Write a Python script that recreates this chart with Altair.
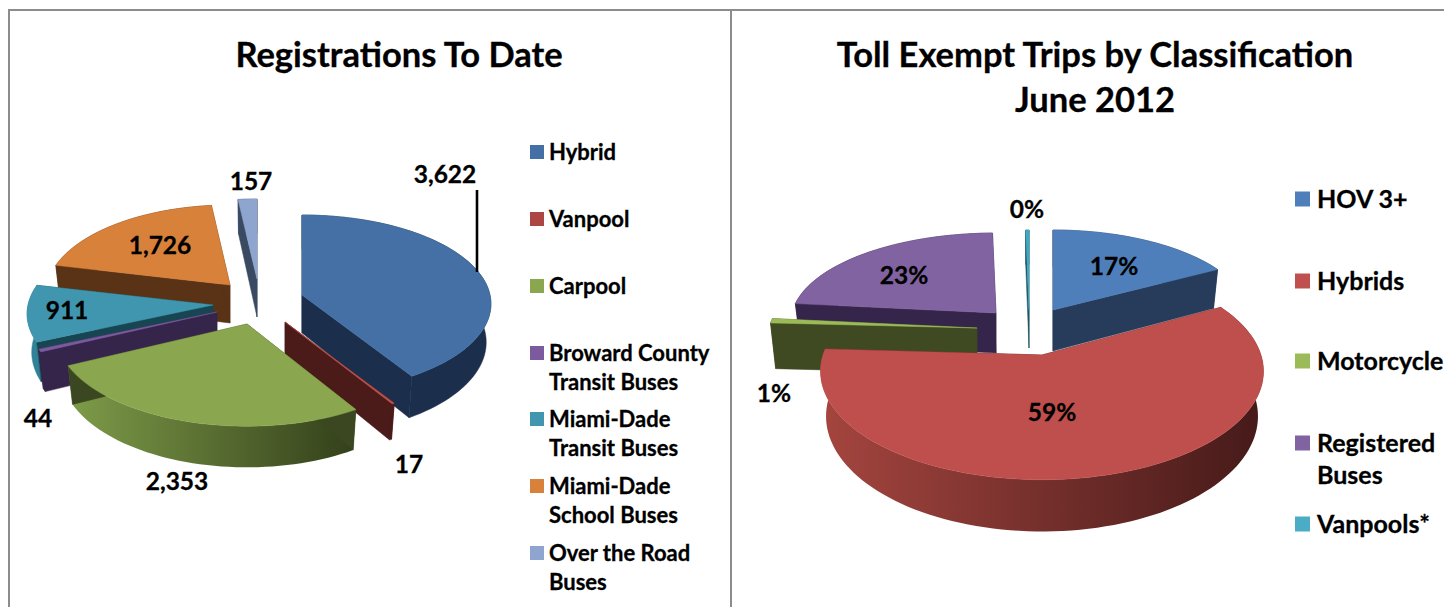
import math
import altair as alt

# ---- data ----
left_title = ["Registrations To Date"]
left_categories = ["Hybrid", "Vanpool", "Carpool", "Broward County Transit Buses",
                   "Miami-Dade Transit Buses", "Miami-Dade School Buses", "Over the Road Buses"]
left_values = [3622, 17, 2353, 44, 911, 1726, 157]
left_value_labels = ["3,622", "17", "2,353", "44", "911", "1,726", "157"]
left_legend_lines = [["Hybrid"], ["Vanpool"], ["Carpool"], ["Broward County", "Transit Buses"],
                     ["Miami-Dade", "Transit Buses"], ["Miami-Dade", "School Buses"],
                     ["Over the Road", "Buses"]]

right_title = ["Toll Exempt Trips by Classification", "June 2012"]
right_categories = ["HOV 3+", "Hybrids", "Motorcycle", "Registered Buses", "Vanpools*"]
right_values = [17, 59, 0.8, 23, 0.3]
right_value_labels = ["17%", "59%", "1%", "23%", "0%"]
right_legend_lines = [["HOV 3+"], ["Hybrids"], ["Motorcycle"], ["Registered", "Buses"], ["Vanpools*"]]

# ---- styling / layout (page pixels) ----
FONT = "Lato"
GRID = "#8c8c8c"
PANEL_H = 599
PANEL_WIDTHS = [722, 714]
ORIGINS = [(8, 8), (730, 8)]
TAPER = 0.975

# per slice: apex x, apex y, rx, ry, perspective, depth
LEFT_GEOM = [(302, 295, 188, 88, .10, 38), (285, 322, 187, 88, .10, 33), (247, 324, 190, 92, .10, 37),
             (217, 312, 187, 88, .10, 38), (213, 305, 185, 88, .10, 38), (230, 285, 183, 88, .10, 38),
             (257, 279, 187, 88, .10, 38)]
LEFT_STYLE = [("#4470a6", "#1b2f4c", "#1b2f4c", "#1b2f4c"), ("#c0504d", "#4a1b18", "#4a1b18", "#4a1b18"),
              ("#8aa64e", "#7e9c49", "#333f1a", "#3a4720"), ("#7c5a9e", "#35254a", "#35254a", "#35254a"),
              ("#3f96ae", "#2f8297", "#2f8297", "#174552"), ("#d8813a", "#5a3317", "#5a3317", "#5a3317"),
              ("#8ea6cf", "#3a4a63", "#3a4a63", "#3a4a63")]
LEFT_ORDER = [6, 5, 4, 3, 0, 1, 2]
LEFT_LEGEND_COLORS = ["#4470a6", "#ab4643", "#8aa64e", "#7c5a9e", "#3f96ae", "#d8813a", "#8ea6cf"]
LEFT_LEGEND_Y = [153, 220, 287, 354, 420, 487, 554]
LEFT_LINE_GAP = 29
LEFT_LABEL_POS = [(445, 176), (409, 466), (177, 483), (38, 420), (67, 312), (160, 247), (251, 183)]

RIGHT_GEOM = [(1053, 310, 197, 88, .10, 41), (1042, 355, 219, 106, .15, 44), (977, 328, 208, 88, .10, 46),
              (996, 313, 204, 88, .10, 40), (1029, 310, 197, 88, .10, 38)]
RIGHT_STYLE = [("#4f7fbb", "#273b5b", "#273b5b", "#273b5b"), ("#bf4f4c", "#a5453f", "#451a19", "#4a1c1b"),
               ("#9bbb59", "#3f4a22", "#3f4a22", "#3f4a22"), ("#8063a0", "#35254a", "#35254a", "#35254a"),
               ("#3fa8c2", "#1d5566", "#1d5566", "#1d5566")]
RIGHT_ORDER = [4, 3, 2, 0, 1]
RIGHT_LEGEND_COLORS = ["#4f7fbb", "#c0504d", "#9bbb59", "#8063a0", "#4bacc6"]
RIGHT_LEGEND_Y = [200, 282, 362, 444, 525]
RIGHT_LINE_GAP = 32
RIGHT_LABEL_POS = [(1114, 268), (1052, 414), (774, 395), (904, 277), (1027, 211)]

projection = alt.Projection(type="identity", scale=1, translate=[0, 0])


def shape(coords, fill, ox, oy, closed=True, width=2):
    pts = [[x - ox, y - oy] for x, y in coords]
    if closed:
        geom = {"type": "Polygon", "coordinates": [pts + [pts[0]]]}
    else:
        geom = {"type": "LineString", "coordinates": pts}
    feature = {"type": "Feature", "properties": {}, "geometry": geom}
    data = alt.Data(values=[feature])
    if closed:
        return alt.Chart(data).mark_geoshape(fill=fill, stroke=fill if isinstance(fill, str) else "transparent",
                                             strokeWidth=0.5)
    return alt.Chart(data).mark_geoshape(filled=False, stroke=fill, strokeWidth=width)


def slice_layers(theta0, theta1, geom, style, ox, oy):
    cx, cy, rx, ry, k, depth = geom
    top, wall_a, wall_b, radial = style
    n = max(2, int((theta1 - theta0) / 2))
    arc, down = [], []
    for i in range(n + 1):
        t = math.radians(theta0 + (theta1 - theta0) * i / n)
        u, v = math.sin(t), -math.cos(t)
        s = 1 / (1 - k * v)
        arc.append((cx + rx * u * s, cy + ry * v * s))
        down.append((cx + TAPER * rx * u * s, cy + ry * v * s + depth * s))
    apex, apex_d = (cx, cy), (cx, cy + depth)
    fill = wall_a if wall_a == wall_b else alt.Gradient(
        gradient="linear", x1=0, x2=1, y1=0, y2=0,
        stops=[alt.GradientStop(color=wall_a, offset=0), alt.GradientStop(color=wall_b, offset=1)])
    return [
        shape(arc + down[::-1], fill, ox, oy),
        shape([apex, arc[0], down[0], apex_d], radial, ox, oy),
        shape([apex, arc[-1], down[-1], apex_d], radial, ox, oy),
        shape([apex] + arc, top, ox, oy),
    ]


def pie_layers(values, geoms, styles, order, ox, oy):
    total = sum(values)
    starts, acc = [], 0
    for v in values:
        starts.append(acc / total * 360)
        acc += v
    ends = starts[1:] + [360]
    layers = []
    for i in order:
        layers += slice_layers(starts[i], ends[i], geoms[i], styles[i], ox, oy)
    return layers


def text_layer(rows, ox, oy, size, align="center"):
    data = [{"lon": x - ox, "lat": y - oy, "t": t} for x, y, t in rows]
    return alt.Chart(alt.Data(values=data)).mark_text(
        font=FONT, fontWeight="bold", fontSize=size, align=align, baseline="middle", color="#000000",
        stroke="#000000", strokeWidth=0.3
    ).encode(longitude="lon:Q", latitude="lat:Q", text="t:N")


def legend_layers(lines, colors, ys, gap, sq_x, sq_size, text_x, size, ox, oy):
    sq = [{"lon": sq_x - ox, "lat": y - oy - 1, "c": c} for y, c in zip(ys, colors)]
    squares = alt.Chart(alt.Data(values=sq)).mark_square(size=sq_size, opacity=1).encode(
        longitude="lon:Q", latitude="lat:Q", color=alt.Color("c:N", scale=None))
    rows = []
    for y, parts in zip(ys, lines):
        for j, part in enumerate(parts):
            rows.append((text_x, y + j * gap, part))
    return [squares, text_layer(rows, ox, oy, size, "left")]


# ---- left panel ----
ox, oy = ORIGINS[0]
left_layers = [
    shape([(ox, 10), (ox + PANEL_WIDTHS[0], 10)], GRID, ox, oy, closed=False),
    shape([(9, 10), (9, oy + PANEL_H)], GRID, ox, oy, closed=False),
]
left_layers += pie_layers(left_values, LEFT_GEOM, LEFT_STYLE, LEFT_ORDER, ox, oy)
left_layers.append(shape([(477, 190), (477, 272)], "#000000", ox, oy, closed=False, width=2.6))
left_layers.append(text_layer([(x, y, t) for (x, y), t in zip(LEFT_LABEL_POS, left_value_labels)], ox, oy, 24.5))
left_layers.append(text_layer([(399, 57, left_title[0])], ox, oy, 34.5))
left_layers += legend_layers(left_legend_lines, LEFT_LEGEND_COLORS, LEFT_LEGEND_Y, LEFT_LINE_GAP,
                             537, 196, 549, 22, ox, oy)
left = alt.layer(*left_layers, projection=projection).properties(width=PANEL_WIDTHS[0], height=PANEL_H)

# ---- right panel ----
ox, oy = ORIGINS[1]
right_layers = [
    shape([(ox, 10), (ox + PANEL_WIDTHS[1], 10)], GRID, ox, oy, closed=False),
    shape([(731, 10), (731, oy + PANEL_H)], GRID, ox, oy, closed=False),
]
right_layers += pie_layers(right_values, RIGHT_GEOM, RIGHT_STYLE, RIGHT_ORDER, ox, oy)
right_layers.append(text_layer([(x, y, t) for (x, y), t in zip(RIGHT_LABEL_POS, right_value_labels)], ox, oy, 24.5))
right_layers.append(text_layer([(1095, 57, right_title[0]), (1095, 102, right_title[1])], ox, oy, 34.5))
right_layers += legend_layers(right_legend_lines, RIGHT_LEGEND_COLORS, RIGHT_LEGEND_Y, RIGHT_LINE_GAP,
                              1302.5, 225, 1317, 25, ox, oy)
right = alt.layer(*right_layers, projection=projection).properties(width=PANEL_WIDTHS[1], height=PANEL_H)

chart = alt.hconcat(left, right, spacing=0, bounds="flush", padding=0).configure_view(strokeWidth=0)
chart.save("out.html", embed_options={"renderer": "svg", "actions": False})
